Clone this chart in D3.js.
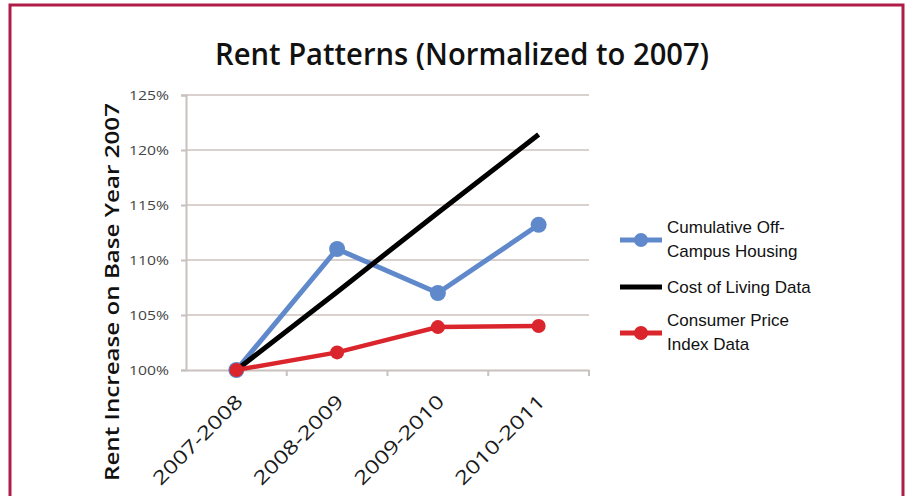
<!DOCTYPE html>
<html>
<head>
<meta charset="utf-8">
<script src="https://cdn.jsdelivr.net/npm/d3@7"></script>
<style>
  body { margin: 0; background: #fff; }
  svg { display: block; }
</style>
</head>
<body>
<div id="chart"></div>
<script>
var categories = ["2007-2008", "2008-2009", "2009-2010", "2010-2011"];
var housing = [1.000, 1.110, 1.070, 1.132];
var costOfLiving = [1.000, 1.071, 1.143, 1.214];
var cpi = [1.000, 1.016, 1.039, 1.040];
var yTicks = [1.00, 1.05, 1.10, 1.15, 1.20, 1.25];

var series = [
  {key: "Cumulative Off-|Campus Housing", values: housing, color: "#6089cc", width: 5, r: 8},
  {key: "Cost of Living Data", values: costOfLiving, color: "#000000", width: 5, r: 0},
  {key: "Consumer Price|Index Data", values: cpi, color: "#d9252b", width: 4.5, r: 7}
];

var W = 908, H = 496,
    margin = {top: 95, right: 319, bottom: 126, left: 186},
    width = W - margin.left - margin.right,
    height = H - margin.top - margin.bottom;

var svg = d3.select("#chart").append("svg")
    .attr("width", W)
    .attr("height", H);

// frame (open at the bottom)
svg.append("path")
    .attr("d", "M10,496 V5 H903 V496")
    .attr("fill", "none")
    .attr("stroke", "#b01c48")
    .attr("stroke-width", 3);

svg.append("text")
    .attr("x", 462)
    .attr("y", 65)
    .attr("text-anchor", "middle")
    .attr("font-family", "Open Sans, sans-serif")
    .attr("font-weight", 600)
    .attr("font-size", 30)
    .attr("textLength", 494)
    .attr("lengthAdjust", "spacingAndGlyphs")
    .attr("fill", "#111")
    .text("Rent Patterns (Normalized to 2007)");

var x = d3.scaleBand()
    .domain(categories)
    .range([0, width]);

var y = d3.scaleLinear()
    .domain([1.00, 1.25])
    .range([height, 0]);

var g = svg.append("g").attr("transform", "translate(" + margin.left + "," + margin.top + ")");

// gridlines
g.append("g")
  .selectAll("line")
  .data(yTicks.slice(1))
  .enter().append("line")
    .attr("x1", 0)
    .attr("x2", width)
    .attr("y1", function(d) { return y(d); })
    .attr("y2", function(d) { return y(d); })
    .attr("stroke", "#d8d1cd")
    .attr("stroke-width", 2);

var yAxis = g.append("g")
    .call(d3.axisLeft(y).tickValues(yTicks).tickFormat(d3.format(".0%")).tickSize(5).tickPadding(12));

var xAxis = g.append("g")
    .attr("transform", "translate(0," + height + ")")
    .call(d3.axisBottom(x).tickSize(0).tickFormat(""));

// category boundary ticks
xAxis.selectAll(".bound")
  .data(categories)
  .enter().append("line")
    .attr("class", "bound")
    .attr("x1", function(d) { return x(d) + x.bandwidth(); })
    .attr("x2", function(d) { return x(d) + x.bandwidth(); })
    .attr("y1", 0)
    .attr("y2", 6);

[yAxis, xAxis].forEach(function(a) {
  a.select(".domain").attr("stroke", "#c9c1bd").attr("stroke-width", 2);
  a.selectAll("line").attr("stroke", "#c9c1bd").attr("stroke-width", 2);
});
yAxis.selectAll("text")
    .attr("font-family", "Open Sans, sans-serif")
    .attr("font-size", 13.5)
    .attr("textLength", 40)
    .attr("lengthAdjust", "spacingAndGlyphs")
    .attr("fill", "#444");

// x labels, rotated
g.append("g")
  .selectAll("text")
  .data(categories)
  .enter().append("text")
    .attr("transform", function(d) {
      return "translate(" + (x(d) + x.bandwidth() / 2 + 3) + "," + (height + 28) + ") rotate(-45)";
    })
    .attr("text-anchor", "end")
    .attr("dy", "0.35em")
    .attr("font-family", "Open Sans, sans-serif")
    .attr("font-size", 19)
    .attr("textLength", 118)
    .attr("lengthAdjust", "spacingAndGlyphs")
    .attr("fill", "#1a1a1a")
    .text(function(d) { return d; });

svg.append("text")
    .attr("transform", "translate(112,292) rotate(-90)")
    .attr("text-anchor", "middle")
    .attr("dy", "0.35em")
    .attr("font-family", "Open Sans, sans-serif")
    .attr("font-weight", 600)
    .attr("font-size", 20)
    .attr("textLength", 378)
    .attr("lengthAdjust", "spacingAndGlyphs")
    .attr("fill", "#111")
    .text("Rent Increase on Base Year 2007");

var line = d3.line()
    .x(function(d, i) { return x(categories[i]) + x.bandwidth() / 2; })
    .y(function(d) { return y(d); });

var s = g.selectAll(".series")
  .data(series)
  .enter().append("g")
    .attr("class", "series");

s.append("path")
    .attr("d", function(d) { return line(d.values); })
    .attr("fill", "none")
    .attr("stroke", function(d) { return d.color; })
    .attr("stroke-width", function(d) { return d.width; });

s.selectAll("circle")
  .data(function(d) { return d.r ? d.values.map(function(v) { return {v: v, d: d}; }) : []; })
  .enter().append("circle")
    .attr("cx", function(p, i) { return x(categories[i]) + x.bandwidth() / 2; })
    .attr("cy", function(p) { return y(p.v); })
    .attr("r", function(p) { return p.d.r; })
    .attr("fill", function(p) { return p.d.color; });

// legend
var legendY = [240, 287, 333];
var legend = svg.append("g")
  .selectAll("g")
  .data(series)
  .enter().append("g")
    .attr("transform", function(d, i) { return "translate(620," + legendY[i] + ")"; });

legend.append("line")
    .attr("x1", 0)
    .attr("x2", 42)
    .attr("stroke", function(d) { return d.color; })
    .attr("stroke-width", 5);

legend.filter(function(d) { return d.r; }).append("circle")
    .attr("cx", 21)
    .attr("r", 7)
    .attr("fill", function(d) { return d.color; });

legend.append("text")
    .attr("font-family", "Liberation Sans, Arial, sans-serif")
    .attr("font-size", 17)
    .attr("fill", "#111")
    .selectAll("tspan")
    .data(function(d) { return d.key.split("|"); })
    .enter().append("tspan")
      .attr("x", 47)
      .attr("y", function(t, i, nodes) { return nodes.length > 1 ? (i === 0 ? -13 : 11) : 0; })
      .attr("dy", "0.35em")
      .text(function(t) { return t; });
</script>
</body>
</html>
